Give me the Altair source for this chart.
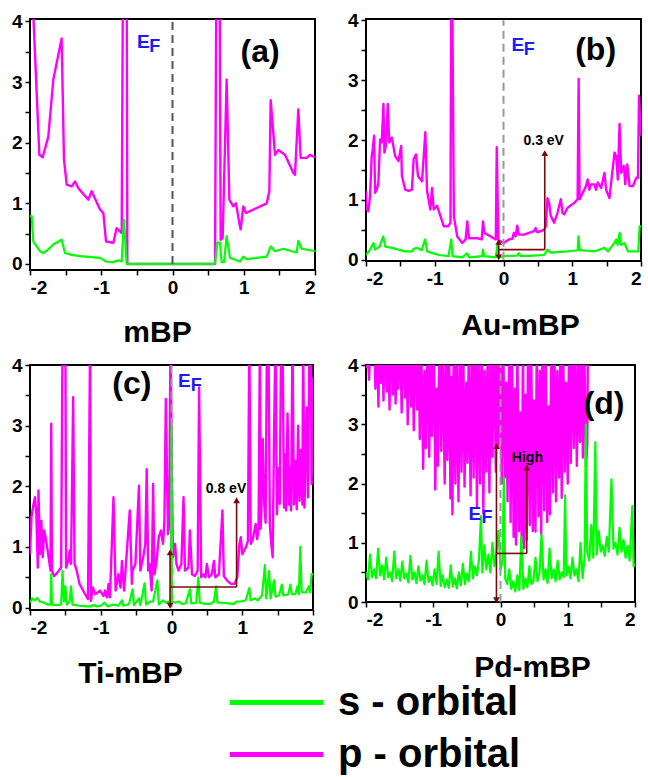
import altair as alt
import pandas as pd

FONT = "Liberation Sans"
ORBITALS = ["s - orbital", "p - orbital"]
COLORS = ["#00ff00", "#ff00ff"]
ARROW = "#7a0a0a"
EF_BLUE = "#1a1aff"

# ---------------- panel (a) mBP ----------------
A_P = [(-2.0, 5.0), (-1.953, 4.1), (-1.869, 1.8), (-1.822, 1.76), (-1.743, 2.1), (-1.673, 3.04),
       (-1.556, 3.72), (-1.523, 1.72), (-1.485, 1.31), (-1.415, 1.28), (-1.368, 1.36), (-1.322, 1.25),
       (-1.181, 1.06), (-1.135, 1.2), (-1.018, 0.9), (-0.971, 0.84), (-0.933, 0.37), (-0.83, 0.35),
       (-0.784, 0.59), (-0.713, 0.51), (-0.69, 6.0), (-0.645, 6.0), (-0.634, 0.0), (0.597, 0.0),
       (0.62, 6.0), (0.657, 6.0), (0.676, 0.4), (0.704, 0.43), (0.76, 3.04), (0.798, 1.06),
       (0.854, 0.95), (0.891, 1.0), (0.938, 0.67), (0.957, 0.57), (0.994, 0.95), (1.032, 0.84),
       (1.322, 1.0), (1.359, 1.2), (1.378, 2.7), (1.439, 1.8), (1.485, 1.88), (1.579, 1.8),
       (1.696, 1.5), (1.719, 1.47), (1.766, 2.55), (1.799, 1.75), (1.883, 1.75), (1.93, 1.8), (2.0, 1.76)]
A_S = [(-2.0, 0.79), (-1.977, 0.79), (-1.953, 0.37), (-1.86, 0.21), (-1.813, 0.18), (-1.743, 0.24),
       (-1.673, 0.32), (-1.556, 0.4), (-1.509, 0.18), (-1.415, 0.15), (-1.298, 0.13), (-1.018, 0.1),
       (-0.933, 0.04), (-0.83, 0.03), (-0.76, 0.06), (-0.713, 0.04), (-0.681, 0.73), (-0.643, 0.0),
       (0.597, 0.0), (0.629, 0.35), (0.667, 0.35), (0.69, 0.03), (0.723, 0.03), (0.76, 0.46),
       (0.807, 0.1), (0.854, 0.08), (0.947, 0.04), (0.994, 0.12), (1.041, 0.08), (1.322, 0.12),
       (1.378, 0.29), (1.439, 0.21), (1.556, 0.25), (1.673, 0.21), (1.743, 0.19), (1.766, 0.38),
       (1.813, 0.25), (2.0, 0.21)]

# ---------------- panel (b) Au-mBP ----------------
B_P = [(-2.0, 1.15), (-1.99, 0.84), (-1.966, 0.81), (-1.941, 1.06), (-1.917, 1.73), (-1.907, 1.79),
       (-1.883, 2.07), (-1.868, 1.12), (-1.844, 1.17), (-1.82, 1.28), (-1.795, 2.01), (-1.771, 1.96),
       (-1.746, 2.6), (-1.732, 1.79), (-1.712, 1.9), (-1.683, 2.6), (-1.663, 1.96), (-1.624, 2.04),
       (-1.576, 1.73), (-1.527, 1.65), (-1.488, 1.9), (-1.478, 1.4), (-1.429, 1.17), (-1.38, 1.15),
       (-1.332, 1.17), (-1.307, 1.68), (-1.273, 1.76), (-1.244, 1.4), (-1.185, 1.31), (-1.137, 2.13),
       (-1.112, 1.15), (-1.063, 0.84), (-1.039, 1.2), (-1.015, 0.84), (-0.966, 0.9), (-0.917, 0.73),
       (-0.868, 0.56), (-0.805, 0.56), (-0.771, 0.62), (-0.761, 4.5), (-0.746, 4.5), (-0.722, 0.73),
       (-0.673, 0.39), (-0.6, 0.28), (-0.551, 0.34), (-0.527, 0.64), (-0.502, 0.36), (-0.38, 0.36),
       (-0.317, 0.34), (-0.298, 0.64), (-0.278, 0.45), (-0.185, 0.39), (-0.112, 0.34), (-0.098, 1.88),
       (-0.075, 0.33), (0.005, 0.28), (0.078, 0.34), (0.127, 0.35), (0.151, 0.45), (0.176, 0.39),
       (0.2, 0.57), (0.224, 0.42), (0.298, 0.42), (0.444, 0.48), (0.468, 0.53), (0.493, 0.46),
       (0.59, 0.5), (0.615, 0.56), (0.639, 1.03), (0.663, 0.95), (0.688, 0.73), (0.737, 0.62),
       (0.785, 0.78), (0.834, 1.01), (0.859, 0.78), (0.883, 0.76), (0.932, 0.87), (1.029, 0.95),
       (1.078, 1.01), (1.093, 3.02), (1.107, 1.01), (1.2, 1.23), (1.224, 1.34), (1.249, 1.17),
       (1.273, 1.26), (1.322, 1.26), (1.346, 1.17), (1.371, 1.29), (1.42, 1.2), (1.468, 1.45),
       (1.493, 1.17), (1.541, 1.03), (1.566, 1.29), (1.615, 1.79), (1.639, 1.73), (1.663, 1.34),
       (1.688, 2.27), (1.712, 1.45), (1.751, 1.57), (1.771, 1.26), (1.8, 1.59), (1.834, 1.23),
       (1.883, 1.23), (1.932, 1.37), (1.956, 1.37), (1.971, 2.74), (1.995, 2.07)]
B_S = [(-2.0, 0.08), (-1.94, 0.17), (-1.89, 0.28), (-1.87, 0.17), (-1.8, 0.22), (-1.75, 0.39),
       (-1.72, 0.22), (-1.62, 0.2), (-1.53, 0.17), (-1.43, 0.14), (-1.33, 0.14), (-1.31, 0.18),
       (-1.26, 0.2), (-1.19, 0.16), (-1.14, 0.34), (-1.11, 0.14), (-0.94, 0.08), (-0.8, 0.06),
       (-0.76, 0.34), (-0.74, 0.06), (-0.6, 0.04), (-0.53, 0.11), (-0.5, 0.04), (-0.31, 0.06),
       (-0.3, 0.17), (-0.28, 0.06), (-0.11, 0.04), (-0.09, 0.25), (-0.06, 0.04), (0.0, 0.06),
       (0.2, 0.07), (0.22, 0.11), (0.25, 0.06), (0.44, 0.07), (0.59, 0.08), (0.64, 0.17),
       (0.69, 0.12), (0.93, 0.14), (1.08, 0.16), (1.09, 0.39), (1.11, 0.16), (1.32, 0.14),
       (1.47, 0.2), (1.52, 0.14), (1.61, 0.28), (1.64, 0.34), (1.66, 0.25), (1.69, 0.45),
       (1.71, 0.25), (1.76, 0.28), (1.81, 0.14), (1.91, 0.14), (1.96, 0.14), (1.98, 0.56), (2.0, 0.56)]

# ---------------- panel (c) Ti-mBP ----------------
C_P = [(-2.0, 0.88), (-1.98, 1.49), (-1.95, 1.71), (-1.93, 1.82), (-1.91, 1.54), (-1.89, 0.66),
       (-1.88, 1.93), (-1.86, 0.88), (-1.84, 1.43), (-1.82, 0.83), (-1.8, 1.27), (-1.78, 1.16),
       (-1.75, 0.94), (-1.71, 0.61), (-1.7, 3.03), (-1.69, 0.61), (-1.66, 0.52), (-1.61, 0.58),
       (-1.56, 0.66), (-1.54, 4.5), (-1.5, 4.5), (-1.49, 0.66), (-1.46, 0.77), (-1.44, 0.94),
       (-1.42, 0.72), (-1.39, 3.47), (-1.37, 0.72), (-1.34, 0.61), (-1.3, 0.39), (-1.22, 0.22),
       (-1.18, 0.14), (-1.15, 4.5), (-1.14, 0.11), (-1.11, 0.33), (-1.08, 0.22), (-1.01, 0.28),
       (-0.96, 0.19), (-0.94, 0.28), (-0.91, 0.17), (-0.89, 0.39), (-0.87, 0.17), (-0.82, 1.82),
       (-0.79, 0.28), (-0.75, 0.55), (-0.72, 0.33), (-0.7, 0.77), (-0.67, 0.28), (-0.65, 0.61),
       (-0.59, 1.6), (-0.56, 0.39), (-0.55, 0.61), (-0.51, 0.72), (-0.46, 2.01), (-0.44, 0.61),
       (-0.4, 0.83), (-0.37, 1.05), (-0.35, 2.28), (-0.33, 0.61), (-0.31, 0.72), (-0.28, 0.28),
       (-0.26, 2.04), (-0.24, 0.55), (-0.21, 0.77), (-0.18, 1.16), (-0.15, 1.27), (-0.12, 1.05),
       (-0.1, 1.43), (-0.08, 3.44), (-0.05, 1.21), (-0.03, 1.38), (-0.015, 4.5), (0.0, 2.83),
       (0.02, 0.83), (0.05, 1.05), (0.07, 0.72), (0.1, 0.61), (0.14, 0.72), (0.17, 1.82),
       (0.19, 0.61), (0.24, 0.66), (0.26, 1.27), (0.29, 0.55), (0.33, 0.52), (0.37, 0.61),
       (0.39, 3.63), (0.42, 0.5), (0.45, 0.55), (0.48, 0.5), (0.5, 0.72), (0.53, 0.5),
       (0.57, 0.55), (0.6, 0.77), (0.62, 0.5), (0.67, 0.55), (0.72, 1.6), (0.74, 0.52),
       (0.79, 0.44), (0.84, 0.39), (0.89, 0.39), (0.93, 0.5), (0.96, 1.05), (0.98, 1.16),
       (1.0, 0.88), (1.05, 0.99), (1.08, 1.1), (1.1, 4.5), (1.12, 1.05), (1.15, 1.13),
       (1.19, 1.38), (1.21, 1.13), (1.23, 1.27), (1.25, 4.5), (1.26, 1.3), (1.27, 1.6),
       (1.29, 2.78), (1.31, 1.71), (1.33, 1.4), (1.35, 4.5), (1.37, 4.5), (1.39, 1.38),
       (1.41, 1.05), (1.43, 0.83), (1.45, 2.9), (1.47, 4.5), (1.49, 1.54), (1.51, 2.3),
       (1.53, 1.71), (1.55, 4.5), (1.57, 4.5), (1.59, 1.65), (1.6, 2.53), (1.62, 1.6),
       (1.64, 3.2), (1.66, 1.7), (1.67, 2.31), (1.69, 1.6), (1.71, 4.5), (1.73, 1.7),
       (1.75, 2.42), (1.77, 1.62), (1.79, 3.0), (1.81, 1.76), (1.83, 2.6), (1.85, 1.7),
       (1.86, 4.5), (1.88, 1.65), (1.91, 3.3), (1.93, 1.82), (1.95, 4.5), (1.97, 4.5),
       (1.98, 2.04), (2.0, 3.8)]
C_S = [(-2.0, 0.08), (-1.97, 0.15), (-1.93, 0.12), (-1.9, 0.16), (-1.86, 0.1), (-1.8, 0.08),
       (-1.75, 0.05), (-1.71, 0.05), (-1.7, 0.55), (-1.69, 0.05), (-1.62, 0.04), (-1.56, 0.05),
       (-1.54, 0.6), (-1.52, 0.1), (-1.5, 0.35), (-1.48, 0.05), (-1.44, 0.1), (-1.42, 0.35),
       (-1.4, 0.05), (-1.35, 0.04), (-1.3, 0.03), (-1.2, 0.02), (-1.15, 0.02), (-1.1, 0.04),
       (-1.05, 0.02), (-1.0, 0.03), (-0.95, 0.08), (-0.9, 0.02), (-0.82, 0.05), (-0.75, 0.03),
       (-0.7, 0.12), (-0.68, 0.03), (-0.6, 0.06), (-0.55, 0.3), (-0.53, 0.04), (-0.46, 0.15),
       (-0.44, 0.04), (-0.38, 0.4), (-0.36, 0.05), (-0.3, 0.1), (-0.26, 0.1), (-0.2, 0.45),
       (-0.18, 0.05), (-0.12, 0.12), (-0.08, 0.08), (-0.04, 0.1), (-0.01, 0.06), (0.0, 3.0),
       (0.01, 0.1), (0.05, 0.08), (0.1, 0.1), (0.15, 0.06), (0.2, 0.07), (0.26, 0.3),
       (0.28, 0.07), (0.35, 0.08), (0.38, 0.5), (0.4, 0.08), (0.48, 0.06), (0.55, 0.06),
       (0.6, 0.1), (0.63, 0.35), (0.65, 0.08), (0.72, 0.08), (0.8, 0.07), (0.88, 0.06),
       (0.92, 0.1), (0.98, 0.1), (1.05, 0.12), (1.1, 0.32), (1.12, 0.12), (1.18, 0.15),
       (1.22, 0.12), (1.28, 0.2), (1.32, 0.7), (1.34, 0.15), (1.38, 0.6), (1.4, 0.15),
       (1.45, 0.45), (1.47, 0.18), (1.52, 0.2), (1.56, 0.38), (1.58, 0.2), (1.65, 0.22),
       (1.68, 0.38), (1.7, 0.22), (1.75, 0.22), (1.78, 0.35), (1.8, 0.22), (1.82, 1.0),
       (1.84, 0.25), (1.9, 0.25), (1.94, 0.35), (1.96, 0.25), (1.98, 0.55), (2.0, 0.55)]

# ---------------- panel (d) Pd-mBP ----------------
D_P = [(-2.0, 3.95), (-1.98, 4.5), (-1.955, 3.75), (-1.93, 4.5), (-1.91, 4.2), (-1.88, 4.5),
       (-1.86, 3.6), (-1.84, 4.5), (-1.815, 3.3), (-1.8, 4.5), (-1.78, 3.7), (-1.755, 4.5),
       (-1.74, 3.4), (-1.72, 4.5), (-1.69, 3.55), (-1.67, 4.5), (-1.65, 3.25), (-1.63, 4.5),
       (-1.6, 3.5), (-1.585, 4.5), (-1.56, 3.35), (-1.54, 4.5), (-1.52, 3.6), (-1.49, 4.5),
       (-1.47, 3.2), (-1.45, 4.5), (-1.42, 3.45), (-1.4, 4.5), (-1.38, 3.0), (-1.36, 4.5),
       (-1.33, 3.3), (-1.31, 4.5), (-1.29, 2.9), (-1.27, 4.5), (-1.24, 3.25), (-1.22, 4.5),
       (-1.2, 2.75), (-1.18, 4.5), (-1.15, 2.25), (-1.13, 3.9), (-1.11, 2.6), (-1.09, 4.5),
       (-1.06, 2.45), (-1.04, 4.5), (-1.02, 2.8), (-0.99, 4.5), (-0.97, 1.9), (-0.95, 3.6),
       (-0.93, 2.3), (-0.91, 4.5), (-0.88, 2.55), (-0.86, 4.5), (-0.83, 2.0), (-0.81, 4.5),
       (-0.79, 2.4), (-0.765, 4.5), (-0.745, 1.75), (-0.73, 3.8), (-0.715, 1.48), (-0.695, 4.5),
       (-0.67, 2.0), (-0.65, 4.5), (-0.625, 1.7), (-0.6, 4.5), (-0.58, 2.2), (-0.555, 4.5),
       (-0.535, 1.95), (-0.51, 3.7), (-0.49, 2.35), (-0.47, 4.5), (-0.445, 1.8), (-0.42, 4.5),
       (-0.4, 2.1), (-0.375, 4.5), (-0.35, 1.6), (-0.33, 4.5), (-0.305, 2.0), (-0.28, 4.5),
       (-0.255, 1.5), (-0.235, 3.9), (-0.21, 2.2), (-0.19, 4.5), (-0.165, 1.85), (-0.14, 4.5),
       (-0.12, 2.45), (-0.095, 4.5), (-0.07, 2.2), (-0.05, 4.5), (-0.03, 2.6), (-0.005, 4.5),
       (0.02, 2.0), (0.04, 4.5), (0.065, 2.1), (0.085, 3.7), (0.105, 1.7), (0.13, 4.5),
       (0.15, 1.35), (0.17, 4.5), (0.195, 1.1), (0.215, 3.6), (0.23, 0.97), (0.25, 4.5),
       (0.275, 1.2), (0.295, 3.2), (0.315, 1.0), (0.335, 4.5), (0.35, 0.91), (0.37, 3.5),
       (0.39, 1.05), (0.41, 4.5), (0.435, 1.3), (0.455, 4.5), (0.48, 1.2), (0.5, 3.4),
       (0.52, 1.19), (0.54, 4.5), (0.565, 1.45), (0.585, 3.9), (0.605, 1.14), (0.625, 4.5),
       (0.65, 1.55), (0.67, 4.5), (0.695, 1.35), (0.715, 3.3), (0.735, 1.48), (0.755, 4.5),
       (0.78, 1.85), (0.8, 4.5), (0.825, 1.7), (0.845, 3.9), (0.87, 2.1), (0.89, 4.5),
       (0.91, 1.76), (0.93, 4.5), (0.955, 2.2), (0.975, 3.7), (1.0, 2.0), (1.02, 4.5),
       (1.045, 2.35), (1.065, 4.5), (1.09, 2.6), (1.11, 4.5), (1.135, 2.3), (1.155, 4.0),
       (1.18, 2.7), (1.2, 4.5), (1.225, 2.44), (1.245, 4.5), (1.27, 2.3), (1.29, 2.66),
       (1.31, 6.0), (2.0, 6.0)]
D_S = [(-2.0, 0.5), (-1.97, 0.38), (-1.94, 0.8), (-1.91, 0.42), (-1.88, 0.55), (-1.85, 0.4),
       (-1.82, 0.9), (-1.79, 0.45), (-1.76, 0.62), (-1.73, 0.38), (-1.7, 0.75), (-1.67, 0.42),
       (-1.64, 0.5), (-1.61, 0.35), (-1.58, 0.85), (-1.55, 0.4), (-1.52, 0.55), (-1.49, 0.36),
       (-1.46, 0.68), (-1.43, 0.4), (-1.4, 0.48), (-1.37, 0.33), (-1.34, 0.78), (-1.31, 0.38),
       (-1.28, 0.5), (-1.25, 0.32), (-1.22, 0.6), (-1.19, 0.36), (-1.16, 0.45), (-1.13, 0.3),
       (-1.1, 0.7), (-1.07, 0.34), (-1.04, 0.42), (-1.01, 0.28), (-0.98, 0.55), (-0.95, 0.3),
       (-0.92, 0.85), (-0.89, 0.27), (-0.86, 0.45), (-0.83, 0.25), (-0.8, 0.38), (-0.77, 0.24),
       (-0.74, 0.62), (-0.71, 0.26), (-0.68, 0.4), (-0.65, 0.23), (-0.62, 0.5), (-0.59, 0.28),
       (-0.56, 0.65), (-0.53, 0.3), (-0.5, 0.48), (-0.47, 0.35), (-0.44, 0.85), (-0.41, 0.4),
       (-0.38, 0.6), (-0.35, 0.45), (-0.32, 0.72), (-0.29, 1.45), (-0.27, 0.5), (-0.24, 0.95),
       (-0.21, 0.55), (-0.18, 0.8), (-0.15, 0.5), (-0.12, 1.0), (-0.09, 0.6), (-0.06, 0.85),
       (-0.03, 1.2), (0.0, 0.55), (0.03, 0.7), (0.05, 2.1), (0.07, 0.4), (0.1, 0.3),
       (0.13, 0.55), (0.16, 0.22), (0.19, 0.35), (0.22, 0.18), (0.25, 0.45), (0.28, 0.2),
       (0.31, 1.1), (0.34, 0.22), (0.37, 0.4), (0.4, 0.25), (0.43, 0.6), (0.46, 0.3),
       (0.49, 0.35), (0.52, 0.75), (0.55, 0.35), (0.58, 0.5), (0.61, 1.14), (0.64, 0.38),
       (0.67, 0.55), (0.7, 0.32), (0.73, 0.9), (0.76, 0.4), (0.79, 0.55), (0.82, 0.35),
       (0.85, 0.7), (0.88, 0.38), (0.91, 0.5), (0.94, 0.42), (0.96, 1.8), (0.98, 0.45),
       (1.01, 0.6), (1.04, 0.4), (1.07, 0.75), (1.1, 0.45), (1.13, 0.55), (1.16, 0.35),
       (1.19, 1.0), (1.22, 0.4), (1.25, 0.75), (1.27, 3.0), (1.29, 0.85), (1.32, 0.7),
       (1.35, 1.3), (1.38, 0.75), (1.41, 2.7), (1.43, 0.8), (1.46, 1.2), (1.49, 0.85),
       (1.52, 0.95), (1.55, 0.78), (1.58, 1.1), (1.61, 0.85), (1.65, 2.07), (1.68, 0.9),
       (1.71, 1.0), (1.74, 0.8), (1.77, 1.25), (1.8, 0.85), (1.83, 1.05), (1.86, 0.75),
       (1.89, 0.95), (1.92, 0.7), (1.96, 1.62), (1.98, 0.6), (2.0, 0.65)]

# annotation arrows: (x, y, x2, y2) and arrow heads (x, y, shape)
B_ARROWS = [(-0.07, 0.17, 0.6, 0.17), (0.6, 0.17, 0.6, 1.76), (-0.07, 0.05, -0.07, 0.28)]
B_HEADS = [(0.6, 1.78, "triangle-up"), (-0.07, 0.3, "triangle-up"), (-0.07, 0.04, "triangle-down")]
C_ARROWS = [(-0.02, 0.34, 0.92, 0.34), (0.92, 0.34, 0.92, 1.74), (-0.02, 0.05, -0.02, 0.88)]
C_HEADS = [(0.92, 1.77, "triangle-up"), (-0.02, 0.91, "triangle-up"), (-0.02, 0.03, "triangle-down")]
D_ARROWS = [(-0.06, 0.82, 0.39, 0.82), (0.39, 0.82, 0.39, 2.24), (-0.06, 0.05, -0.06, 2.6)]
D_HEADS = [(0.39, 2.27, "triangle-up"), (-0.06, 2.63, "triangle-up"), (-0.06, 0.03, "triangle-down")]

X_TICKS = [-2, -1.5, -1, -0.5, 0, 0.5, 1, 1.5, 2]
Y_TICKS = [0, 0.5, 1, 1.5, 2, 2.5, 3, 3.5, 4]


def series(pts, orbital):
    return pd.DataFrame({"x": [p[0] for p in pts], "y": [p[1] for p in pts],
                         "i": list(range(len(pts))), "orbital": orbital})


def panel(p_pts, s_pts, ydom, w, h, name, title_x, title_y, letter, letter_xy,
          e_xy, f_xy, dash_color, arrows=None, heads=None, note=None):
    xenc = alt.X("x:Q", scale=alt.Scale(domain=[-2, 2], nice=False, zero=False),
                 axis=alt.Axis(values=X_TICKS, title=name, titleX=title_x, titleY=title_y,
                               titleAlign="center", titleBaseline="alphabetic",
                               labelExpr="datum.value % 1 == 0 ? '' + datum.value : ''"))
    yenc = alt.Y("y:Q", scale=alt.Scale(domain=ydom, nice=False, zero=False),
                 axis=alt.Axis(values=Y_TICKS, title=None,
                               labelExpr="datum.value % 1 == 0 ? '' + datum.value : ''"))
    color = alt.Color("orbital:N", scale=alt.Scale(domain=ORBITALS, range=COLORS),
                      legend=alt.Legend(title=None))
    p_line = alt.Chart(series(p_pts, ORBITALS[1])).mark_line(
        strokeWidth=2.4, clip=True, strokeJoin="round").encode(
        x=xenc, y=yenc, color=color, order="i:Q")
    s_line = alt.Chart(series(s_pts, ORBITALS[0])).mark_line(
        strokeWidth=2.2, clip=True, strokeJoin="round").encode(
        x=xenc, y=yenc, color=color, order="i:Q")
    dash = alt.Chart(pd.DataFrame({"x": [0.0], "y": [0.0], "y2": [4.0]})).mark_rule(
        strokeDash=[8, 5], strokeWidth=2, color=dash_color).encode(
        x=xenc, y=yenc, y2="y2:Q")
    layers = [p_line, s_line, dash]
    if arrows:
        adf = pd.DataFrame(arrows, columns=["x", "y", "x2", "y2"])
        layers.append(alt.Chart(adf).mark_rule(color=ARROW, strokeWidth=1.6).encode(
            x=xenc, y=yenc, x2="x2:Q", y2="y2:Q"))
        hdf = pd.DataFrame(heads, columns=["x", "y", "shape"])
        layers.append(alt.Chart(hdf).mark_point(filled=True, size=45, color=ARROW, opacity=1).encode(
            x=xenc, y=yenc, shape=alt.Shape("shape:N", scale=None)))
    if note:
        ndf = pd.DataFrame([note], columns=["x", "y", "t"])
        layers.append(alt.Chart(ndf).mark_text(font=FONT, fontSize=14, fontWeight="bold",
                                               color="black").encode(x=xenc, y=yenc, text="t:N"))
    ldf = pd.DataFrame([letter_xy + (letter,)], columns=["x", "y", "t"])
    layers.append(alt.Chart(ldf).mark_text(font=FONT, fontSize=32, fontWeight="bold",
                                           color="black").encode(x=xenc, y=yenc, text="t:N"))
    edf = pd.DataFrame([e_xy + ("E",)], columns=["x", "y", "t"])
    layers.append(alt.Chart(edf).mark_text(font=FONT, fontSize=19, fontWeight="bold",
                                           color=EF_BLUE).encode(x=xenc, y=yenc, text="t:N"))
    fdf = pd.DataFrame([f_xy + ("F",)], columns=["x", "y", "t"])
    layers.append(alt.Chart(fdf).mark_text(font=FONT, fontSize=18, fontWeight="bold",
                                           color=EF_BLUE).encode(x=xenc, y=yenc, text="t:N"))
    return alt.layer(*layers).properties(width=w, height=h)


pa = panel(A_P, A_S, [-0.1, 4.04], 285, 251, "mBP", 127, 71, "(a)", (1.23, 3.49),
           (-0.41, 3.66), (-0.25, 3.58), "#555555")
pb = panel(B_P, B_S, [-0.02, 4.02], 275, 242, "Au-mBP", 154, 73, "(b)", (1.34, 3.5),
           (0.21, 3.58), (0.375, 3.51), "#999999", B_ARROWS, B_HEADS, (0.585, 1.99, "0.3 eV"))
pc = panel(C_P, C_S, [-0.04, 4.0], 283, 245, "Ti-mBP", 100, 72, "(c)", (-0.56, 3.69),
           (0.18, 3.74), (0.35, 3.66), "#999999", C_ARROWS, C_HEADS, (0.77, 1.95, "0.8 eV"))
pd_ = panel(D_P, D_S, [0.0, 4.0], 269, 237, "Pd-mBP", 166, 74, "(d)", (1.54, 3.35),
            (-0.38, 1.48), (-0.2, 1.42), "#999999", D_ARROWS, D_HEADS, (0.40, 2.43, "High"))

chart = alt.concat(pa, pb, pc, pd_, columns=2, spacing={"row": 95, "column": 51}).properties(
    bounds="flush", padding={"left": 10, "top": 10, "right": 5, "bottom": 5}
).resolve_scale(x="independent", y="independent", color="shared").configure_view(
    stroke="black", strokeWidth=2
).configure_axis(
    labelFont=FONT, labelFontSize=19, labelFontWeight="bold", labelColor="black",
    tickColor="black", tickWidth=1.5, tickSize=5, labelPadding=3, domain=False, grid=False,
    titleFont=FONT, titleFontSize=30, titleFontWeight="bold", titleColor="black"
).configure_legend(
    orient="none", legendX=225, legendY=662, symbolType="M-2.5,0H2.5", symbolSize=1400,
    symbolStrokeWidth=5, labelFont=FONT, labelFontSize=40, labelFontWeight="bold",
    labelColor="black", rowPadding=10, labelOffset=40, padding=0, labelLimit=600
)

chart.save("out.html", embed_options={"renderer": "svg", "actions": False})
